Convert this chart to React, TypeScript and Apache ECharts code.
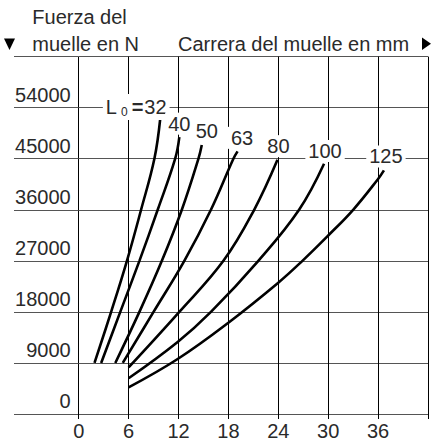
import React, { useEffect, useRef } from "react";
import * as echarts from "echarts";

// Axis ranges and tick steps
const X_MIN = 0;
const X_MAX = 42;
const X_STEP = 6;
const Y_MIN = 0;
const Y_MAX = 63000;
const Y_STEP = 9000;

// Curve names (L0 in mm)
const curveNames = ["32", "40", "50", "63", "80", "100", "125"];

// Curve points [stroke mm, force N]
const curve32 = [[1.9, 9000], [3.9, 18000], [5.8, 27000], [7.5, 36000], [9.1, 45000], [9.8, 52000]];
const curve40 = [[2.7, 9000], [5.0, 18000], [7.3, 27000], [9.5, 36000], [11.6, 45000], [12.1, 48800]];
const curve50 = [[4.4, 9000], [7.3, 18000], [10.0, 27000], [12.4, 36000], [14.4, 45000], [14.8, 47400]];
const curve63 = [[5.3, 9000], [9.0, 18000], [12.7, 27000], [15.9, 36000], [18.6, 45000], [19.1, 46300]];
const curve80 = [[6.0, 8200], [12.1, 18000], [17.4, 27000], [21.1, 36000], [23.9, 44800]];
const curve100 = [[6.0, 6300], [11.9, 12700], [15.9, 18000], [21.6, 27000], [26.5, 36000], [29.5, 44100]];
const curve125 = [[6.0, 4700], [11.9, 9700], [18.0, 16100], [24.0, 23150], [26.9, 27000], [30.0, 31460], [33.0, 36000], [36.0, 41430], [36.7, 42940]];

const curves = [curve32, curve40, curve50, curve63, curve80, curve100, curve125];

// Pixel offsets of each curve label from the curve's end point (styling)
const labelOffsets = [[-24, -12], [0, -13.5], [5, -14], [4.5, -13.5], [1, -13.7], [1, -12.8], [2, -14]];

const FONT = "'Liberation Sans', Arial, Helvetica, sans-serif";
const TEXT = "#2a2a2a";

export default function App() {
  const ref = useRef<HTMLDivElement>(null);

  useEffect(() => {
    if (!ref.current) return;
    const chart = echarts.init(ref.current, undefined, { renderer: "svg" });

    const series = curves.map((pts, i) => {
      const last = pts[pts.length - 1];
      const name = curveNames[i];
      const isFirst = i === 0;
      return {
        type: "line",
        name,
        data: pts,
        smooth: 0.4,
        showSymbol: false,
        symbol: "none",
        silent: true,
        lineStyle: { color: "#000", width: 2.6, cap: "butt" },
        z: 3,
        markPoint: {
          symbol: "circle",
          symbolSize: 1,
          silent: true,
          itemStyle: { color: "rgba(0,0,0,0)" },
          z: 6,
          label: {
            show: true,
            position: "inside",
            color: TEXT,
            fontFamily: FONT,
            fontSize: 20,
            lineHeight: 22,
            backgroundColor: "#fff",
            padding: isFirst ? [2, 3, 2, 3] : [0, 3, 0, 3],
          },
          data: [
            {
              coord: last,
              label: {
                offset: labelOffsets[i],
                formatter: isFirst ? "{L|L}{sub|0}{eq|=}{n|" + name + "}" : name,
                rich: isFirst
                  ? {
                      L: { fontSize: 20, lineHeight: 22, color: TEXT, fontFamily: FONT },
                      sub: { fontSize: 12, lineHeight: 12, verticalAlign: "bottom", padding: [0, 4, 0, 4], color: TEXT, fontFamily: FONT },
                      eq: { fontSize: 20, lineHeight: 22, fontWeight: "bold", padding: [0, 1, 0, 0], color: TEXT, fontFamily: FONT },
                      n: { fontSize: 20, lineHeight: 22, color: TEXT, fontFamily: FONT },
                    }
                  : undefined,
              },
            },
          ],
        },
      };
    });

    const hLine = { color: "#555", width: 1.2 };

    chart.setOption({
      animation: false,
      backgroundColor: "#fff",
      grid: { left: 78.7, top: 56.6, width: 357, height: 358.4 },
      xAxis: {
        type: "value",
        min: X_MIN,
        max: X_MAX,
        interval: X_STEP,
        axisLine: { show: false },
        axisTick: { show: true, length: 5, lineStyle: { color: "#000", width: 1 } },
        splitLine: { show: true, lineStyle: { color: "#000", width: 1 } },
        axisLabel: {
          color: TEXT,
          fontFamily: FONT,
          fontSize: 20,
          lineHeight: 20,
          margin: 7,
          formatter: (v: number) => (v >= X_MAX ? "" : String(v)),
        },
      },
      yAxis: {
        type: "value",
        min: Y_MIN,
        max: Y_MAX,
        interval: Y_STEP,
        axisLine: { show: false },
        axisTick: { show: true, length: 64.7, lineStyle: hLine },
        splitLine: { show: true, lineStyle: hLine },
        axisLabel: {
          color: TEXT,
          fontFamily: FONT,
          fontSize: 20,
          lineHeight: 20,
          margin: 8,
          verticalAlign: "bottom",
          padding: [0, 0, 3, 0],
          formatter: (v: number) => (v >= Y_MAX ? "" : String(v)),
        },
      },
      graphic: [
        { type: "text", x: 32.3, y: 17, style: { text: "Fuerza del", fill: TEXT, fontFamily: FONT, fontSize: 20, verticalAlign: "middle" } },
        { type: "text", x: 32.3, y: 43.5, style: { text: "muelle en N", fill: TEXT, fontFamily: FONT, fontSize: 20, verticalAlign: "middle" } },
        { type: "text", x: 178, y: 43.5, style: { text: "Carrera del muelle en mm", fill: TEXT, fontFamily: FONT, fontSize: 20, verticalAlign: "middle" } },
        { type: "polygon", shape: { points: [[4, 38.5], [15, 38.5], [9.5, 50]] }, style: { fill: "#000" } },
        { type: "polygon", shape: { points: [[422, 37.5], [431, 43.7], [422, 50]] }, style: { fill: "#000" } },
      ],
      series,
    });

    return () => chart.dispose();
  }, []);

  return <div ref={ref} style={{ position: "fixed", left: 0, top: 0, width: 431, height: 441 }} />;
}
